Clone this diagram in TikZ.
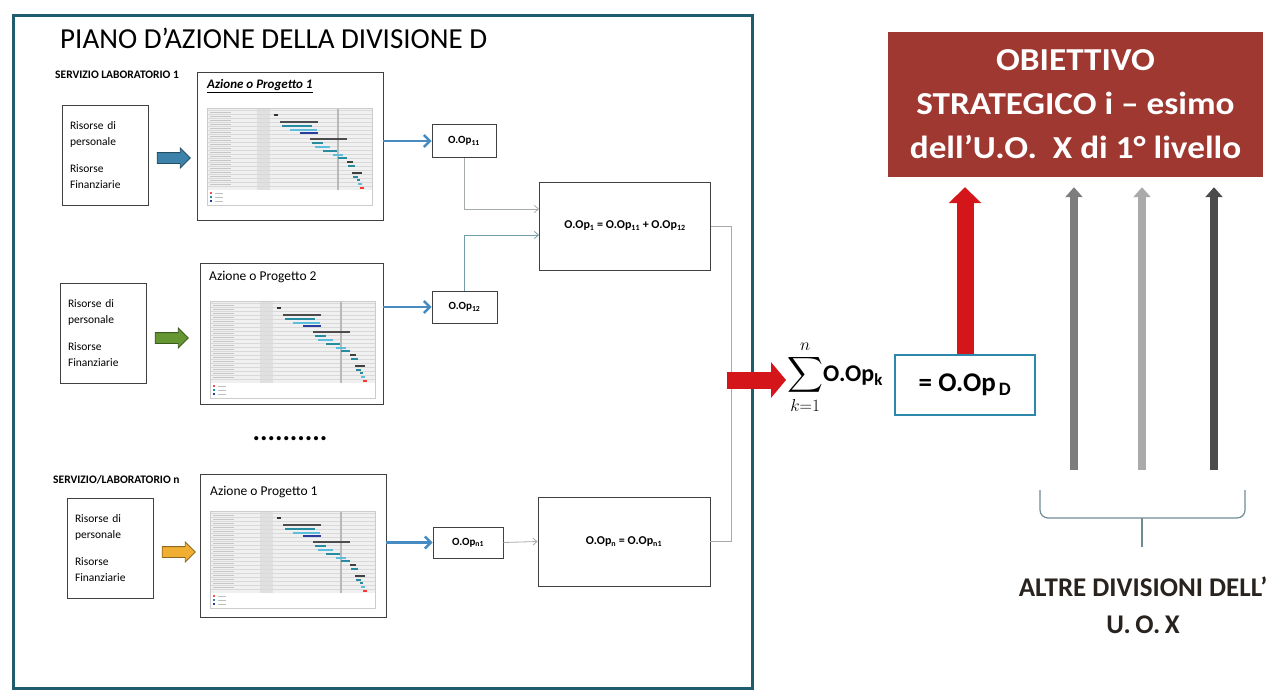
\documentclass[tikz,border=0pt]{standalone}
\usepackage{amsmath}
\usepackage{fontspec}
\setmainfont{Carlito}
\usetikzlibrary{arrows.meta,shapes.arrows,positioning}

\definecolor{framecol}{RGB}{31,92,112}
\definecolor{opblue}{RGB}{70,140,195}
\definecolor{linegray}{RGB}{165,170,170}
\definecolor{objred}{RGB}{158,56,48}
\definecolor{sumred}{RGB}{212,22,26}
\definecolor{boxteal}{RGB}{45,135,170}
\definecolor{resblue}{RGB}{60,130,170}
\definecolor{resgreen}{RGB}{100,150,50}
\definecolor{resorange}{RGB}{240,175,50}
\definecolor{textdark}{RGB}{40,35,30}
\definecolor{gtteal}{RGB}{40,140,160}
\definecolor{gtcyan}{RGB}{90,190,220}
\definecolor{gtblue}{RGB}{40,60,160}
\definecolor{grayA}{RGB}{125,125,125}
\definecolor{grayB}{RGB}{170,170,170}
\definecolor{grayC}{RGB}{75,75,75}
\definecolor{bracecol}{RGB}{110,140,150}

\tikzset{
  resbox/.style={draw=black!75, line width=0.9pt, minimum width=86, minimum height=100,
    text width=70, align=left, font=\fontsize{11.5}{16}\selectfont},
  actbox/.style={draw=black!75, line width=0.9pt, minimum width=186, minimum height=146},
  acttitle/.style={anchor=west, inner sep=0, font=\fontsize{13.5}{14}\selectfont},
  servlabel/.style={anchor=west, inner sep=0, font=\bfseries\fontsize{11.5}{12}\selectfont},
  opbox/.style={draw=black!75, line width=0.9pt, minimum width=64, minimum height=33,
    font=\bfseries\fontsize{11}{12}\selectfont},
  sumbox/.style={draw=black!75, line width=0.9pt, minimum width=171, minimum height=88,
    font=\bfseries\fontsize{12}{13}\selectfont},
  resarrow/.style={single arrow, minimum height=33, minimum width=0, inner xsep=0, inner ysep=5pt,
    single arrow head extend=4.5pt, line width=0.8pt, draw=#1!60!black, fill=#1},
  oparrow/.style={opblue, line width=2.5pt, -{Straight Barb[length=6pt,width=12pt]}},
  thinlink/.style={linegray, line width=0.8pt, -{Straight Barb[length=4pt,width=7pt]}},
  uparrow/.style={line width=8pt, shorten >=10pt, -{Triangle[length=10pt,width=17pt]}},
}

\begin{document}
\begin{tikzpicture}[x=1pt, y=-1pt]
\useasboundingbox (0,0) rectangle (1273,691);

% Frame of the division plan
\draw[framecol, line width=3pt] (13,15) rectangle (752,688);
\node[anchor=west, inner sep=0, font=\fontsize{29}{32}\selectfont] (title) at (60,38) {PIANO D’AZIONE DELLA DIVISIONE D};

% Services
\node[servlabel] (serv1) at (55,75) {SERVIZIO LABORATORIO 1};
\node[servlabel] (servn) at (53,480) {SERVIZIO/LABORATORIO n};

% Resources
\node[resbox] (res1) at (105,155) {Risorse di\\personale\\[11pt]Risorse\\Finanziarie};
\node[resbox] (res2) at (103,333) {Risorse di\\personale\\[11pt]Risorse\\Finanziarie};
\node[resbox] (res3) at (110,548) {Risorse di\\personale\\[11pt]Risorse\\Finanziarie};

\node[resarrow=resblue] (in1) at (171,158) {};
\node[resarrow=resgreen] (in2) at (169,338) {};
\node[resarrow=resorange] (in3) at (176,552) {};

% Actions
\node[actbox, minimum height=148] (act1) at (290,146) {};
\node[actbox, minimum width=183, minimum height=141] (act2) at (291.5,333.5) {};
\node[actbox, minimum height=143] (act3) at (293,545.5) {};
\node[acttitle, font=\bfseries\itshape\fontsize{13}{14}\selectfont] (tit1) at (207,86) {\underline{Azione o Progetto 1}};
\node[acttitle] (tit2) at (209,277) {Azione o Progetto 2};
\node[acttitle] (tit3) at (210,492) {Azione o Progetto 1};

% Gantt charts
\foreach \gx/\gy in {207/108, 210/301, 210/511}{
\begin{scope}[shift={(\gx,\gy)}]
\fill[gray!12] (0,0) rectangle (165,82);
\fill[gray!24] (50,0) rectangle (63,82);
\foreach \r in {2,6,...,80} \draw[gray!30, line width=0.3pt] (0,\r) -- (165,\r);
\foreach \r in {4,8,...,76} \draw[gray!45, line width=0.6pt] (3,\r) -- (24,\r);
\draw[gray!55, line width=1.5pt] (131,0) -- (131,82);
\draw[gray!40, line width=0.6pt] (0,0) rectangle (165,97);
\foreach \a/\b/\r/\c in {67/71/7/black!80, 73/111/14/black!70, 75/105/18/gtteal,
  83/110/22/gtcyan, 93/111/25/gtblue, 103/140/31/black!70, 105/116/35/gtteal,
  108/123/39/gtcyan, 116/130/43/gtteal, 126/136/47/gtcyan, 131/140/50/gtteal,
  140/146/54/black!75, 141/148/58/gtteal, 145/155/65/black!75, 146/151/69/gtteal,
  150/153/72/gtteal, 151/155/76/gtcyan, 153/157/80/red!80}
  \fill[\c] (\a,\r-1.3) rectangle (\b,\r+1.3);
\foreach \r/\c in {85/red!70, 89/gtteal, 93/gtblue}{
  \fill[\c] (3,\r-1) rectangle (5,\r+1);
  \draw[gray!50, line width=0.4pt] (8,\r) -- (16,\r);}
\end{scope}
}

\node[anchor=base, inner sep=0, font=\bfseries\fontsize{28}{30}\selectfont] (dots) at (290,440) {..........};

% Operational objectives
\node[opbox] (op11) at (464,141) {O.Op\textsubscript{11}};
\node[opbox, minimum width=65, minimum height=32] (op12) at (464.5,307) {O.Op\textsubscript{12}};
\node[opbox, minimum width=70, minimum height=31] (opn1) at (468,542.5) {O.Op\textsubscript{n1}};
\node[sumbox] (op1) at (625,226) {O.Op\textsubscript{1} = O.Op\textsubscript{11} + O.Op\textsubscript{12}};
\node[sumbox, minimum width=172, minimum height=89] (opn) at (624,541.5) {O.Op\textsubscript{n} = O.Op\textsubscript{n1}};

\draw[oparrow] (act1.east |- op11.west) -- (op11.west);
\draw[oparrow] (act2.east |- op12.west) -- (op12.west);
\draw[oparrow] (act3.east |- opn1.west) -- (opn1.west);
\draw[thinlink] (op11.south) |- ([yshift=17pt]op1.west);
\draw[thinlink, linegray!60!boxteal] (op12.north) |- ([yshift=-9pt]op1.west);
\draw[thinlink] (opn1.east) -- (opn.west);
\draw[linegray, line width=0.8pt] (op1.east) -- ++(20,0) |- (opn.east);

% Division total
\node[anchor=west, inner sep=1pt] (sum) at (786,377)
  {\fontsize{24}{30}\selectfont$\displaystyle\sum_{k=1}^{n}$\bfseries\fontsize{24}{26}\selectfont O.Op\textsubscript{k}};
\coordinate (redstart) at (727,380);
\draw[sumred, line width=17pt, -{Triangle[length=15pt,width=35pt]}] (redstart) -- (sum.west |- redstart);
\node[draw=boxteal, line width=2.5pt, minimum width=140, minimum height=60,
  font=\bfseries\fontsize{27}{30}\selectfont] (opD) at (965,385) {= O.Op\textsubscript{\,D}};

% Strategic objective
\node[fill=objred, minimum width=375, minimum height=145, align=center, text=white,
  font=\bfseries\fontsize{32}{44}\selectfont\addfontfeatures{FakeStretch=1.1}] (obj) at (1075.5,104.5)
  {OBIETTIVO\\STRATEGICO i -- esimo\\dell’U.O.\ \ X di 1° livello};
\draw[sumred, line width=17pt, shorten >=10pt, -{Triangle[length=16pt,width=32pt]}] (opD.north) -- (opD.north |- obj.south);

% Other divisions
\coordinate (g1) at (1074,470);
\coordinate (g2) at (1142,470);
\coordinate (g3) at (1214,470);
\draw[uparrow, grayA] (g1) -- (g1 |- obj.south);
\draw[uparrow, grayB] (g2) -- (g2 |- obj.south);
\draw[uparrow, grayC] (g3) -- (g3 |- obj.south);

\coordinate (bl) at (1040,490);
\coordinate (br) at (1245,490);
\coordinate (bmid) at (1142,518);
\coordinate (btip) at (1142,547);
\draw[bracecol, line width=1.2pt, rounded corners=8pt] (bl) |- (bmid) -| (br);
\draw[bracecol, line width=1.2pt] (bmid) -- (btip);
\node[below=26pt of btip, xshift=1pt, align=center, text=textdark,
  font=\bfseries\fontsize{27}{37}\selectfont] (others) {ALTRE DIVISIONI DELL’\\U.\,O.\,X};
\end{tikzpicture}
\end{document}
